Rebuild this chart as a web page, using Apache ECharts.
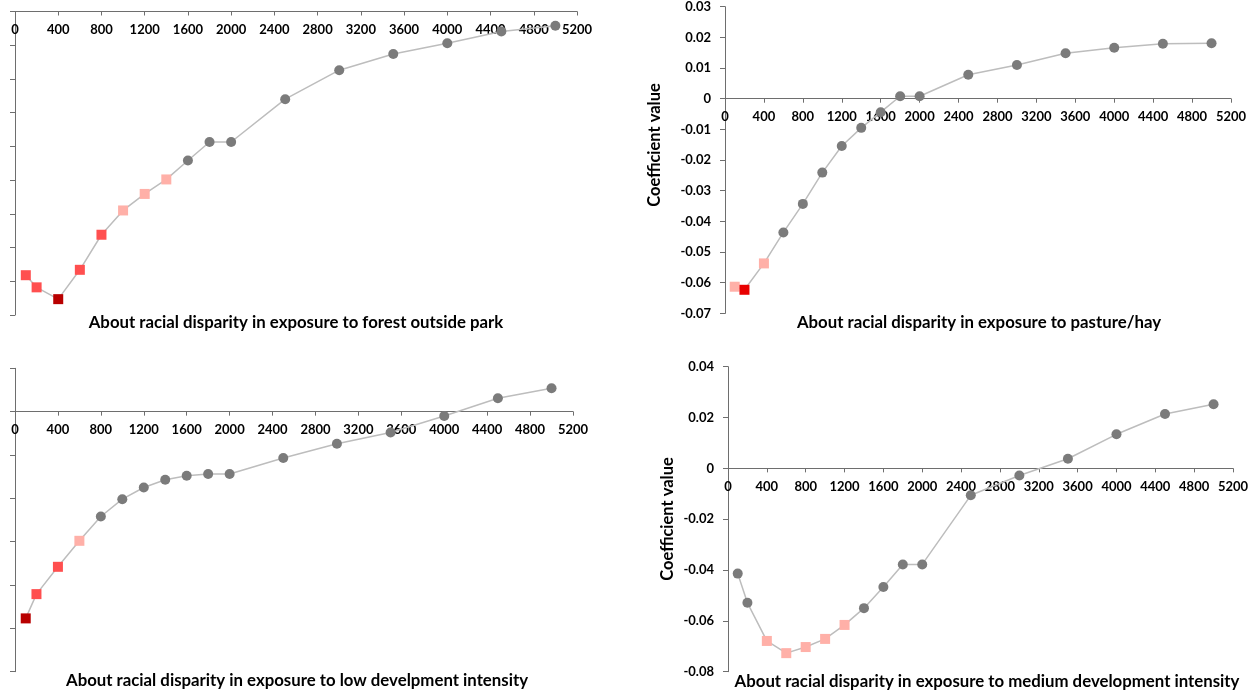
<!DOCTYPE html>
<html>
<head>
<meta charset="utf-8">
<title>Coefficient value by distance</title>
<script src="https://cdn.jsdelivr.net/npm/echarts@6/dist/echarts.min.js"></script>
<style>
  html, body { margin: 0; padding: 0; background: #ffffff; }
  #chart { width: 1255px; height: 693px; }
</style>
</head>
<body>
<div id="chart"></div>
<script>
// Distance thresholds (x) shared by all four panels
const distances = [100, 200, 400, 600, 800, 1000, 1200, 1400, 1600, 1800, 2000, 2500, 3000, 3500, 4000, 4500, 5000];
const xTicks = [0, 400, 800, 1200, 1600, 2000, 2400, 2800, 3200, 3600, 4000, 4400, 4800, 5200];

// Coefficient values per panel
const forestOutsidePark = [-0.0782, -0.0818, -0.0853, -0.0766, -0.0662, -0.0590, -0.0541, -0.0498, -0.0442, -0.0387, -0.0387, -0.0260, -0.0174, -0.0126, -0.0094, -0.0059, -0.0042];
const pastureHay = [-0.0613, -0.0623, -0.0537, -0.0436, -0.0343, -0.0241, -0.0154, -0.0095, -0.0044, 0.0008, 0.0008, 0.0078, 0.0110, 0.0148, 0.0166, 0.0179, 0.0181];
const lowDevelopment = [-0.0477, -0.0421, -0.0358, -0.0298, -0.0242, -0.0202, -0.0175, -0.0157, -0.0148, -0.0144, -0.0144, -0.0107, -0.0074, -0.0048, -0.0010, 0.0031, 0.0054];
const mediumDevelopment = [-0.0414, -0.0529, -0.0679, -0.0727, -0.0703, -0.0671, -0.0616, -0.0550, -0.0467, -0.0378, -0.0378, -0.0106, -0.0028, 0.0038, 0.0134, 0.0214, 0.0252];

// Significance class of each estimate: 3 = strongest, 2, 1, 0 = not significant, 4 = highlighted strong
const forestSig = [2, 2, 3, 2, 2, 1, 1, 1, 0, 0, 0, 0, 0, 0, 0, 0, 0];
const pastureSig = [1, 4, 1, 0, 0, 0, 0, 0, 0, 0, 0, 0, 0, 0, 0, 0, 0];
const lowSig = [3, 2, 2, 1, 0, 0, 0, 0, 0, 0, 0, 0, 0, 0, 0, 0, 0];
const mediumSig = [0, 0, 1, 1, 1, 1, 1, 0, 0, 0, 0, 0, 0, 0, 0, 0, 0];

const panelTitles = [
  'About racial disparity in exposure to forest outside park',
  'About racial disparity in exposure to pasture/hay',
  'About racial disparity in exposure to low develpment intensity',
  'About racial disparity in exposure to medium development intensity'
];
const yAxisTitle = 'Coefficient value';

const FONT = 'Lato, "Open Sans", sans-serif';
const sigStyle = {
  0: { symbol: 'circle', color: '#7b7b7b', size: 10 },
  1: { symbol: 'rect', color: '#ffb0a8', size: 10 },
  2: { symbol: 'rect', color: '#ff4f4f', size: 10 },
  3: { symbol: 'rect', color: '#b80000', size: 10 },
  4: { symbol: 'rect', color: '#e80000', size: 10 }
};

function buildPoints(values, sig) {
  return distances.map((d, i) => {
    const s = sigStyle[sig[i]];
    return {
      value: [d, values[i]],
      symbol: s.symbol,
      symbolSize: s.size,
      itemStyle: { color: s.color, opacity: 1 }
    };
  });
}

const panels = [
  { values: forestOutsidePark, sig: forestSig, grid: { left: 15, top: 11.5, width: 562, height: 303.5 }, min: -0.09, max: 0, interval: 0.01, labels: false, titleX: 296, titleY: 323 },
  { values: pastureHay, sig: pastureSig, grid: { left: 725, top: 6.7, width: 506, height: 306.7 }, min: -0.07, max: 0.03, interval: 0.01, labels: true, titleX: 979, titleY: 323, nameX: 655, nameY: 145 },
  { values: lowDevelopment, sig: lowSig, grid: { left: 15, top: 368.3, width: 558, height: 303.4 }, min: -0.06, max: 0.01, interval: 0.01, labels: false, titleX: 297, titleY: 681 },
  { values: mediumDevelopment, sig: mediumSig, grid: { left: 728, top: 366.7, width: 505, height: 305 }, min: -0.08, max: 0.04, interval: 0.02, labels: true, titleX: 987, titleY: 682, nameX: 668, nameY: 519 }
];

const axisColor = '#6e6e6e';
const plainNumber = v => String(+v.toFixed(6));

// Horizontal axis crosses the vertical axis at zero
const zeroOffset = p => -p.grid.height * (0 - p.min) / (p.max - p.min);

const titleGraphics = panels.map((p, i) => ({
  type: 'text',
  x: p.titleX,
  y: p.titleY,
  z: 10,
  style: {
    text: panelTitles[i],
    font: 'bold 16.8px ' + FONT,
    fill: '#000000',
    align: 'center',
    verticalAlign: 'middle',
    textAlign: 'center',
    textVerticalAlign: 'middle'
  }
}));

const nameGraphics = panels.filter(p => p.labels).map(p => ({
  type: 'text',
  x: p.nameX,
  y: p.nameY,
  rotation: Math.PI / 2,
  z: 10,
  style: {
    text: yAxisTitle,
    font: 'bold 16.5px ' + FONT,
    fill: '#000000',
    align: 'center',
    verticalAlign: 'middle',
    textAlign: 'center',
    textVerticalAlign: 'middle'
  }
}));

const option = {
  backgroundColor: '#ffffff',
  animation: false,
  grid: panels.map(p => Object.assign({ containLabel: false }, p.grid)),
  xAxis: panels.map((p, i) => ({
    type: 'value',
    gridIndex: i,
    position: 'bottom',
    offset: zeroOffset(p),
    min: xTicks[0],
    max: xTicks[xTicks.length - 1],
    interval: xTicks[1] - xTicks[0],
    axisLine: { show: true, onZero: false, lineStyle: { color: axisColor, width: 1 } },
    axisTick: { show: true, inside: false, length: 4, lineStyle: { color: axisColor } },
    axisLabel: { show: true, margin: 12, color: '#000000', fontFamily: FONT, fontWeight: 'bold', fontSize: 13, formatter: plainNumber },
    splitLine: { show: false },
    z: 2
  })),
  yAxis: panels.map((p, i) => ({
    type: 'value',
    gridIndex: i,
    min: p.min,
    max: p.max,
    interval: p.interval,
    axisLine: { show: true, onZero: false, lineStyle: { color: axisColor, width: 1 } },
    axisTick: { show: true, inside: false, length: 5, lineStyle: { color: axisColor } },
    axisLabel: { show: p.labels, margin: 14, color: '#000000', fontFamily: FONT, fontWeight: 'bold', fontSize: 13, formatter: plainNumber },
    splitLine: { show: false }
  })),
  series: panels.map((p, i) => ({
    type: 'line',
    xAxisIndex: i,
    yAxisIndex: i,
    data: buildPoints(p.values, p.sig),
    showAllSymbol: true,
    lineStyle: { color: '#bdbdbd', width: 1.5 },
    emphasis: { disabled: true },
    z: 3
  })),
  graphic: titleGraphics.concat(nameGraphics)
};

const chart = echarts.init(document.getElementById('chart'), null, { renderer: 'canvas' });
chart.setOption(option);
</script>
</body>
</html>
